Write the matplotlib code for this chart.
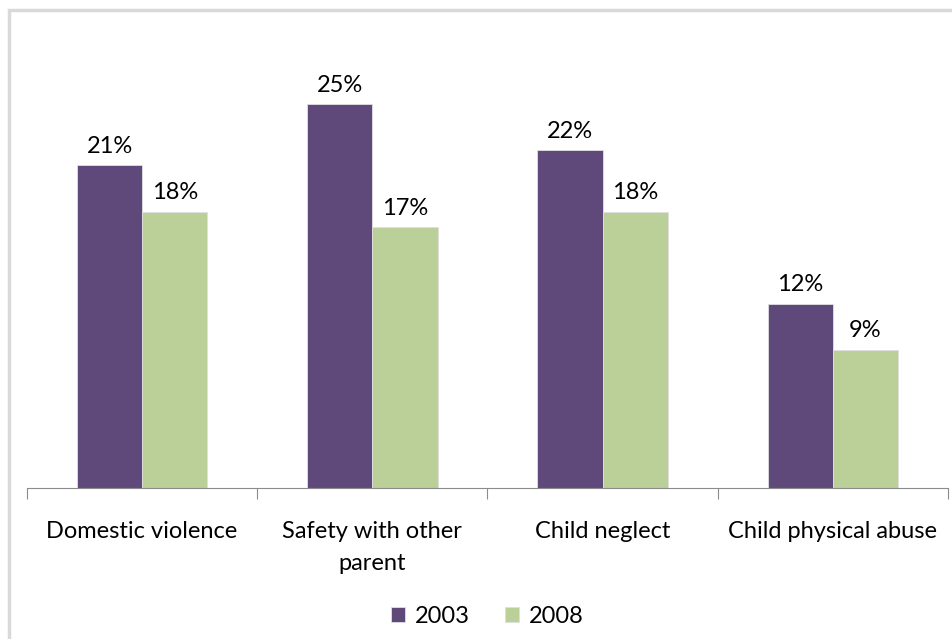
import matplotlib
matplotlib.use("Agg")
import matplotlib.pyplot as plt
from matplotlib.patches import Rectangle
import numpy as np

categories = ["Domestic violence", "Safety with other\nparent", "Child neglect", "Child physical abuse"]
years = ["2003", "2008"]
vals_2003 = [21, 25, 22, 12]
vals_2008 = [18, 17, 18, 9]
colors = ["#5F497A", "#BBCF98"]

plt.rcParams['font.family'] = ['Lato', 'DejaVu Sans']
fs = 17

fig = plt.figure(figsize=(9.53, 6.39), dpi=100)
# light frame around the chart area (open past the right and bottom edges)
fig.patches.append(Rectangle((9 / 953, -0.1), 1.2, 1.1 - 10 / 639, transform=fig.transFigure,
                             fill=False, edgecolor="#D9D9D9", linewidth=2.5))

ax = fig.add_axes([27 / 953, 0.2363, 921 / 953, 0.7211])
x = np.arange(len(categories))
w = 0.283
for i, (vals, yr) in enumerate(zip([vals_2003, vals_2008], years)):
    pos = x + (i - 0.5) * w
    ax.bar(pos, vals, width=w, color=colors[i], edgecolor="#E0E0E0", linewidth=0.6, label=yr)
    for p, v in zip(pos, vals):
        ax.annotate(f"{v}%", (p, v), xytext=(0, 6), textcoords="offset points",
                    ha="center", va="bottom", fontsize=fs, color="black")

ax.set_xlim(-0.5, len(categories) - 0.5)
ax.set_ylim(0, 30)
for s in ["top", "right", "left"]:
    ax.spines[s].set_visible(False)
ax.spines["bottom"].set_color("#8C8C8C")
ax.set_yticks([])
ax.set_xticks(np.arange(len(categories) + 1) - 0.5)
ax.set_xticklabels([])
ax.tick_params(axis="x", length=8, color="#8C8C8C", direction="out")
ax.set_xticks(x, minor=True)
ax.set_xticklabels(categories, minor=True, fontsize=fs, linespacing=1.65)
ax.tick_params(axis="x", which="minor", length=0, pad=24)

ax.legend(loc="upper center", bbox_to_anchor=(0.5, -0.21), ncol=2, frameon=False,
          fontsize=fs, handlelength=0.6, handleheight=0.6, handletextpad=0.4, columnspacing=1.5)

fig.savefig("out.png", dpi=100)
